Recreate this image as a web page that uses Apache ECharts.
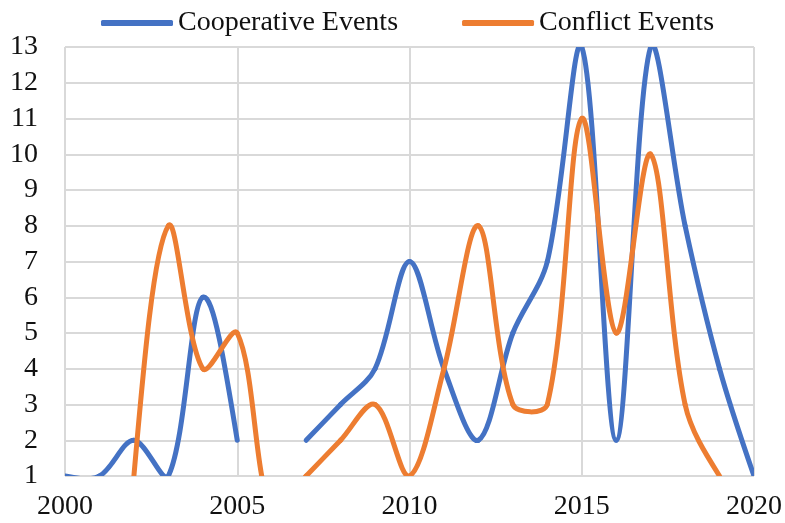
<!DOCTYPE html>
<html>
<head>
<meta charset="utf-8">
<script src="https://cdn.jsdelivr.net/npm/echarts@6/dist/echarts.min.js"></script>
<style>
  html, body { margin: 0; padding: 0; background: #fff; }
  #chart { width: 785px; height: 523px; }
</style>
</head>
<body>
<div id="chart"></div>
<script>
// Yearly event counts, 2000–2020 (null = no record for that year)
var years = [2000, 2001, 2002, 2003, 2004, 2005, 2006, 2007, 2008, 2009, 2010,
             2011, 2012, 2013, 2014, 2015, 2016, 2017, 2018, 2019, 2020];
var cooperative = [1, 1, 2, 1, 6, 2, null, 2, 3, 4, 7, 4, 2, 5, 7, 13, 2, 13, 8, 4, 1];
var conflict = [null, null, 1, 8, 4, 5, 0, 1, 2, 3, 1, 4, 8, 3, 3, 11, 5, 10, 3, 1, null];
var seriesNames = ['Cooperative Events', 'Conflict Events'];
var seriesColors = ['#4472C4', '#ED7D31'];
var xTicks = [2000, 2005, 2010, 2015, 2020];

var FONT = '"Liberation Serif", "Times New Roman", serif';
var GRID = '#d9d9d9';

function pairs(vals) {
  return years.map(function (y, i) { return [y, vals[i]]; });
}

function dist(a, b) {
  return Math.sqrt((a[0] - b[0]) * (a[0] - b[0]) + (a[1] - b[1]) * (a[1] - b[1]));
}

// Smoothed line drawn segment by segment: a cubic Bezier between each pair of
// neighbouring points, tangents taken from the surrounding points and weighted
// by segment length. Missing values break the line.
function smoothLineRenderer(vals, color) {
  return function (params, api) {
    var i = params.dataIndex;
    if (i >= years.length - 1 || vals[i] === null || vals[i + 1] === null) {
      return null;
    }
    function pt(k) { return api.coord([years[k], vals[k]]); }
    var p1 = pt(i), p2 = pt(i + 1);
    var hasPrev = i > 0 && vals[i - 1] !== null;
    var hasNext = i + 2 < years.length && vals[i + 2] !== null;
    var p0 = hasPrev ? pt(i - 1) : p1;
    var p3 = hasNext ? pt(i + 2) : p2;
    var d01 = dist(p0, p1), d12 = dist(p1, p2), d23 = dist(p2, p3);
    var r1 = hasPrev ? d12 / (d01 + d12) / 1.5 : 0;
    var r2 = hasNext ? d12 / (d12 + d23) / 1.5 : 0;
    var c1 = [p1[0] + (p2[0] - p0[0]) * r1 / 2, p1[1] + (p2[1] - p0[1]) * r1 / 2];
    var c2 = [p2[0] - (p3[0] - p1[0]) * r2 / 2, p2[1] - (p3[1] - p1[1]) * r2 / 2];
    if (!hasPrev) { c1 = [p1[0] + (c2[0] - p1[0]) / 2, p1[1] + (c2[1] - p1[1]) / 2]; }
    if (!hasNext) { c2 = [p2[0] + (c1[0] - p2[0]) / 2, p2[1] + (c1[1] - p2[1]) / 2]; }
    var cs = params.coordSys;
    return {
      type: 'bezierCurve',
      shape: { x1: p1[0], y1: p1[1], x2: p2[0], y2: p2[1],
               cpx1: c1[0], cpy1: c1[1], cpx2: c2[0], cpy2: c2[1] },
      style: { stroke: color, lineWidth: 5, fill: null, lineCap: 'round', lineJoin: 'round' },
      clipPath: { type: 'rect', shape: { x: cs.x, y: cs.y, width: cs.width, height: cs.height } },
      silent: true
    };
  };
}

var chart = echarts.init(document.getElementById('chart'), null, { renderer: 'canvas' });
chart.setOption({
  backgroundColor: '#ffffff',
  animation: false,
  legend: {
    data: seriesNames,
    left: 96,
    top: 4,
    icon: 'roundRect',
    itemWidth: 72,
    itemHeight: 6,
    itemGap: 64,
    textStyle: { fontFamily: FONT, fontSize: 28, color: '#111' }
  },
  grid: { left: 65, right: 28, top: 47, bottom: 47, containLabel: false },
  xAxis: {
    type: 'value',
    min: xTicks[0],
    max: xTicks[xTicks.length - 1],
    interval: 5,
    axisLine: { show: false },
    axisTick: { show: false },
    axisLabel: {
      fontFamily: FONT, fontSize: 28, color: '#111', margin: 17,
      formatter: function (v) { return String(v); }
    },
    splitLine: { show: true, lineStyle: { color: GRID, width: 2 } }
  },
  yAxis: {
    type: 'value',
    min: 1,
    max: 13,
    interval: 1,
    axisLine: { show: false },
    axisTick: { show: false },
    axisLabel: { fontFamily: FONT, fontSize: 28, color: '#111', margin: 27 },
    splitLine: { show: true, lineStyle: { color: GRID, width: 2 } }
  },
  series: [
    {
      name: seriesNames[0],
      type: 'custom',
      data: pairs(cooperative),
      encode: { x: 0, y: 1 },
      clip: true,
      itemStyle: { color: seriesColors[0] },
      renderItem: smoothLineRenderer(cooperative, seriesColors[0])
    },
    {
      name: seriesNames[1],
      type: 'custom',
      data: pairs(conflict),
      encode: { x: 0, y: 1 },
      clip: true,
      itemStyle: { color: seriesColors[1] },
      renderItem: smoothLineRenderer(conflict, seriesColors[1])
    }
  ]
});
</script>
</body>
</html>
